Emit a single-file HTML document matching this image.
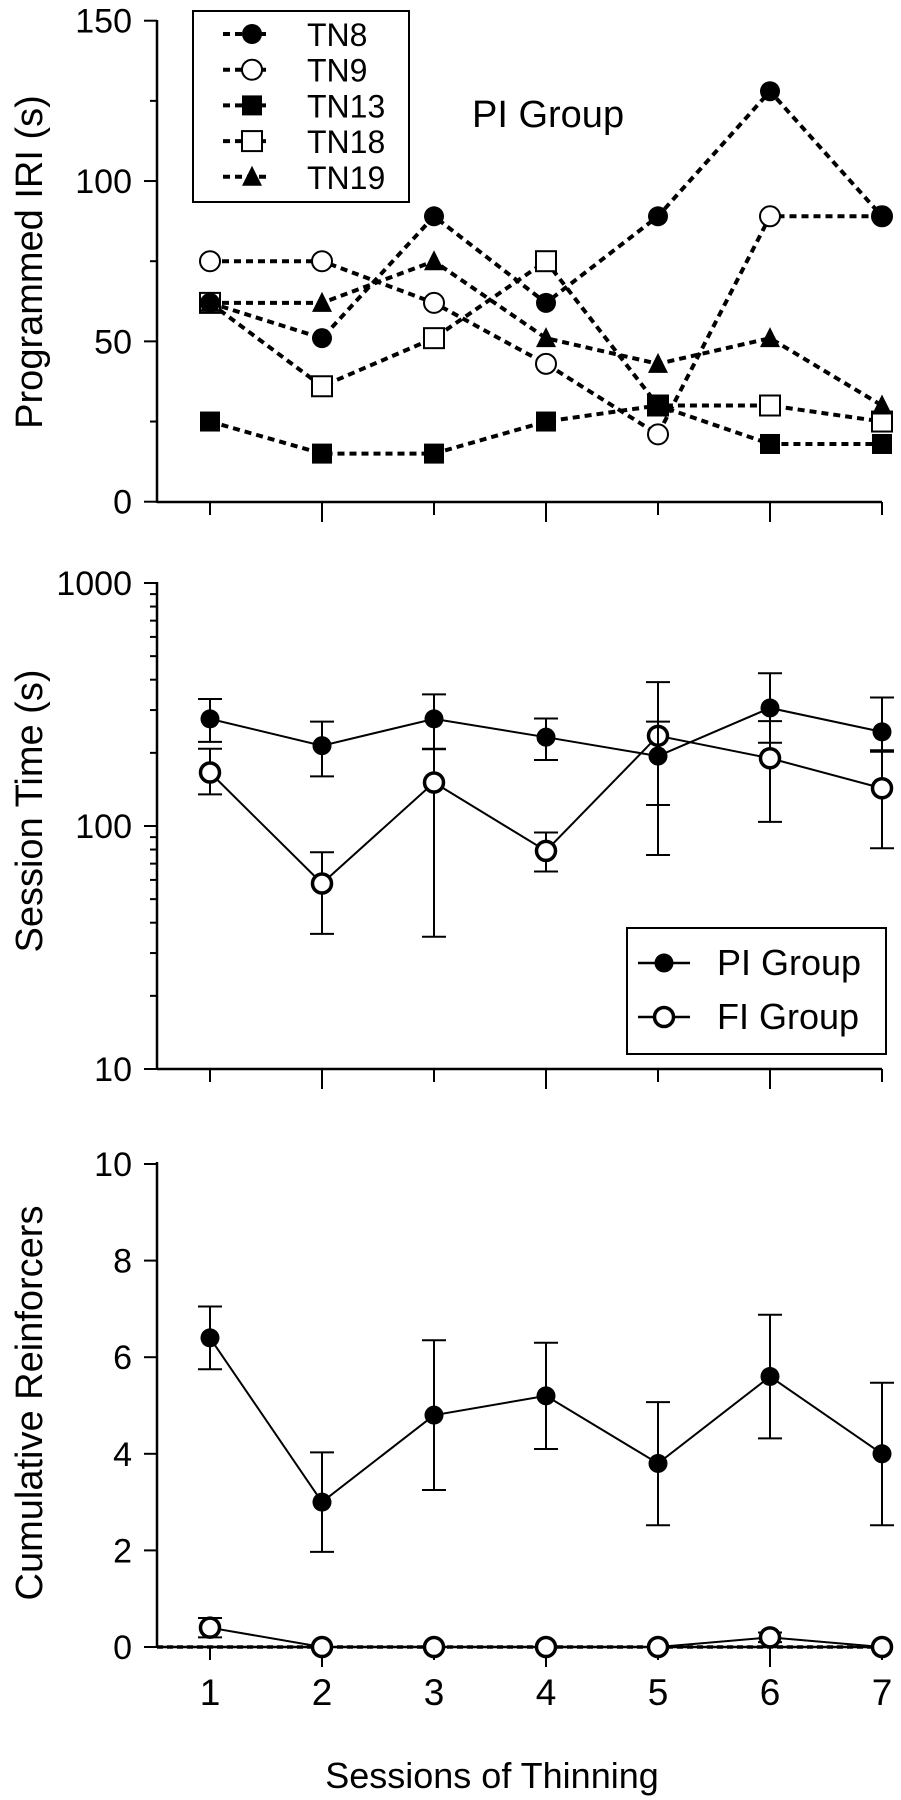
<!DOCTYPE html>
<html><head><meta charset="utf-8"><style>
html,body{margin:0;padding:0;background:#fff;}
svg{display:block;font-family:"Liberation Sans",Arial,sans-serif;}
</style></head><body>
<svg id="fig" width="901" height="1800" viewBox="0 0 901 1800" xmlns="http://www.w3.org/2000/svg"></svg>
<script>
const sessions = [1,2,3,4,5,6,7];
// Panel 1: programmed IRI
const tn8  = [62,51,89,62,89,128,89];
const tn9  = [75,75,62,43,21,89,89];
const tn13 = [25,15,15,25,30,18,18];
const tn18 = [62,36,51,75,30,30,25];
const tn19 = [62,62,75,51,43,51,30];
const iriTicks = [0,50,100,150];
// Panel 2: session time (log)
const piTime = [276,214,276,232,194,306,244];
const piTimeHi = [333,269,348,277,391,425,338];
const piTimeLo = [222,160,207,187,122,220,205];
const fiTime = [166,58,151,79,235,190,143];
const fiTimeHi = [208,78,208,94,269,270,202];
const fiTimeLo = [135,36,35,65,76,104,81];
const timeTicks = [10,100,1000];
// Panel 3: cumulative reinforcers
const piRein = [6.4,3.0,4.8,5.2,3.8,5.6,4.0];
const piReinHi = [7.05,4.03,6.35,6.3,5.07,6.88,5.47];
const piReinLo = [5.75,1.97,3.25,4.1,2.52,4.32,2.52];
const fiRein = [0.4,0,0,0,0,0.2,0];
const fiReinHi = [0.6,0,0,0,0,0.3,0];
const fiReinLo = [0.2,0,0,0,0,0.1,0];
const reinTicks = [0,2,4,6,8,10];

const NS="http://www.w3.org/2000/svg";
const svg=document.getElementById('fig');
function el(tag,attrs,parent){const e=document.createElementNS(NS,tag);for(const k in attrs)e.setAttribute(k,attrs[k]);(parent||svg).appendChild(e);return e;}
const X0=157, X1=882;
function xs(s){return 210+(s-1)*112;}

function axes(name,yTop,yBot,ticks,ys,minor,title,titleY){
  const g=el('g',{});
  
  
  el('line',{x1:X0,y1:yTop-1,x2:X0,y2:yBot+1,stroke:'#000','stroke-width':2.5},g);
  el('line',{x1:X0,y1:yBot,x2:X1,y2:yBot,stroke:'#000','stroke-width':2.5},g);
  sessions.forEach(s=>{el('line',{x1:xs(s),y1:yBot,x2:xs(s),y2:yBot+(s%2==0?20:13),stroke:'#000','stroke-width':2},g);});
  ticks.forEach(t=>{const y=ys(t);el('line',{x1:X0-13,y1:y,x2:X0,y2:y,stroke:'#000','stroke-width':2},g);
    const tx=el('text',{x:X0-25,y:y+12,'text-anchor':'end','font-size':34},g);tx.textContent=t;
    });
  (minor||[]).forEach(t=>{const y=ys(t);el('line',{x1:X0-7,y1:y,x2:X0,y2:y,stroke:'#000','stroke-width':2},g);});
  const tt=el('text',{x:0,y:0,'text-anchor':'middle','font-size':38,transform:`translate(42,${titleY}) rotate(-90)`},g);
  tt.textContent=title;
}
function marker(g,type,x,y,r,sw){
  if(type==='fc') el('circle',{cx:x,cy:y,r:r,fill:'#000'},g);
  else if(type==='oc') el('circle',{cx:x,cy:y,r:r,fill:'#fff',stroke:'#000','stroke-width':sw||2},g);
  else if(type==='fs') el('rect',{x:x-r,y:y-r,width:2*r,height:2*r,fill:'#000'},g);
  else if(type==='os') el('rect',{x:x-r,y:y-r,width:2*r,height:2*r,fill:'#fff',stroke:'#000','stroke-width':2},g);
  else if(type==='tri') el('polygon',{points:`${x},${y-r-1} ${x-r},${y+r-1} ${x+r},${y+r-1}`,fill:'#000'},g);
}
function series(name,vals,ys,type,r,dash,sw,hi,lo){
  const g=el('g',{});
  
  
  if(hi){sessions.forEach((s,i)=>{const x=xs(s);if(hi[i]===lo[i])return;
    el('line',{x1:x,y1:ys(hi[i]),x2:x,y2:ys(lo[i]),stroke:'#000','stroke-width':2},g);
    el('line',{x1:x-12,y1:ys(hi[i]),x2:x+12,y2:ys(hi[i]),stroke:'#000','stroke-width':2},g);
    el('line',{x1:x-12,y1:ys(lo[i]),x2:x+12,y2:ys(lo[i]),stroke:'#000','stroke-width':2},g);});}
  el('polyline',{points:vals.map((v,i)=>xs(sessions[i])+','+ys(v)).join(' '),fill:'none',stroke:'#000','stroke-width':dash?4:2,'stroke-dasharray':dash?'7,5':'none'},g);
  vals.forEach((v,i)=>marker(g,type,xs(sessions[i]),ys(v),r,sw));
}
// Panel 1
const y1=v=>501.7-(v/150)*481;
axes('iri',21,502,iriTicks,y1,[25,75,125],'Programmed IRI (s)',262);
series('tn9-line',tn9,y1,'oc',10,true);
series('tn18-line',tn18,y1,'os',10,true);
series('tn13-line',tn13,y1,'fs',10,true);
series('tn19-line',tn19,y1,'tri',10,true);
series('tn8-line',tn8,y1,'fc',10,true);
const pg=el('text',{x:472,y:127,'font-size':38});pg.textContent='PI Group';

const leg=el('g',{});


el('rect',{x:193,y:11,width:216,height:191,fill:'#fff',stroke:'#000','stroke-width':2},leg);
[['TN8','fc'],['TN9','oc'],['TN13','fs'],['TN18','os'],['TN19','tri']].forEach((d,i)=>{
  const y=34+i*35.7;
  const e=el('g',{},leg);
  
  
  el('line',{x1:223,y1:y,x2:270,y2:y,stroke:'#000','stroke-width':4,'stroke-dasharray':'7,5'},e);
  marker(e,d[1],252,y,10);
  const t=el('text',{x:307,y:y+12,'font-size':32},e);t.textContent=d[0];
});
// Panel 2
const y2=v=>1069-(Math.log10(v)-1)*243;
const minor2=[20,30,40,50,60,70,80,90,200,300,400,500,600,700,800,900];
axes('time',583,1069,timeTicks,y2,minor2,'Session Time (s)',811);
series('fi-time',fiTime,y2,'oc',9.5,false,3.5,fiTimeHi,fiTimeLo);
series('pi-time',piTime,y2,'fc',9.5,false,2,piTimeHi,piTimeLo);
const leg2=el('g',{});


el('rect',{x:627,y:928,width:259,height:126,fill:'#fff',stroke:'#000','stroke-width':2},leg2);
[['PI Group','fc'],['FI Group','oc']].forEach((d,i)=>{
  const y=963+i*54;
  const e=el('g',{},leg2);
  
  
  el('line',{x1:638,y1:y,x2:690,y2:y,stroke:'#000','stroke-width':2.5},e);
  marker(e,d[1],664,y,9.5,3.5);
  const t=el('text',{x:717,y:y+12,'font-size':36},e);t.textContent=d[0];
});
// Panel 3
const y3=v=>1647-(v/10)*483;
axes('rein',1163,1647,reinTicks,y3,[],'Cumulative Reinforcers',1403);
el('line',{x1:X0,y1:y3(0),x2:X1,y2:y3(0),stroke:'#000','stroke-width':3.5,'stroke-dasharray':'6,4'});
series('fi-rein',fiRein,y3,'oc',9.5,false,3.5,fiReinHi,fiReinLo);
series('pi-rein',piRein,y3,'fc',9.5,false,2,piReinHi,piReinLo);
sessions.forEach(s=>{const t=el('text',{x:xs(s),y:1705,'text-anchor':'middle','font-size':37});t.textContent=s;
  });
const xt=el('text',{x:492,y:1788,'text-anchor':'middle','font-size':36});xt.textContent='Sessions of Thinning';

</script>
</body></html>
